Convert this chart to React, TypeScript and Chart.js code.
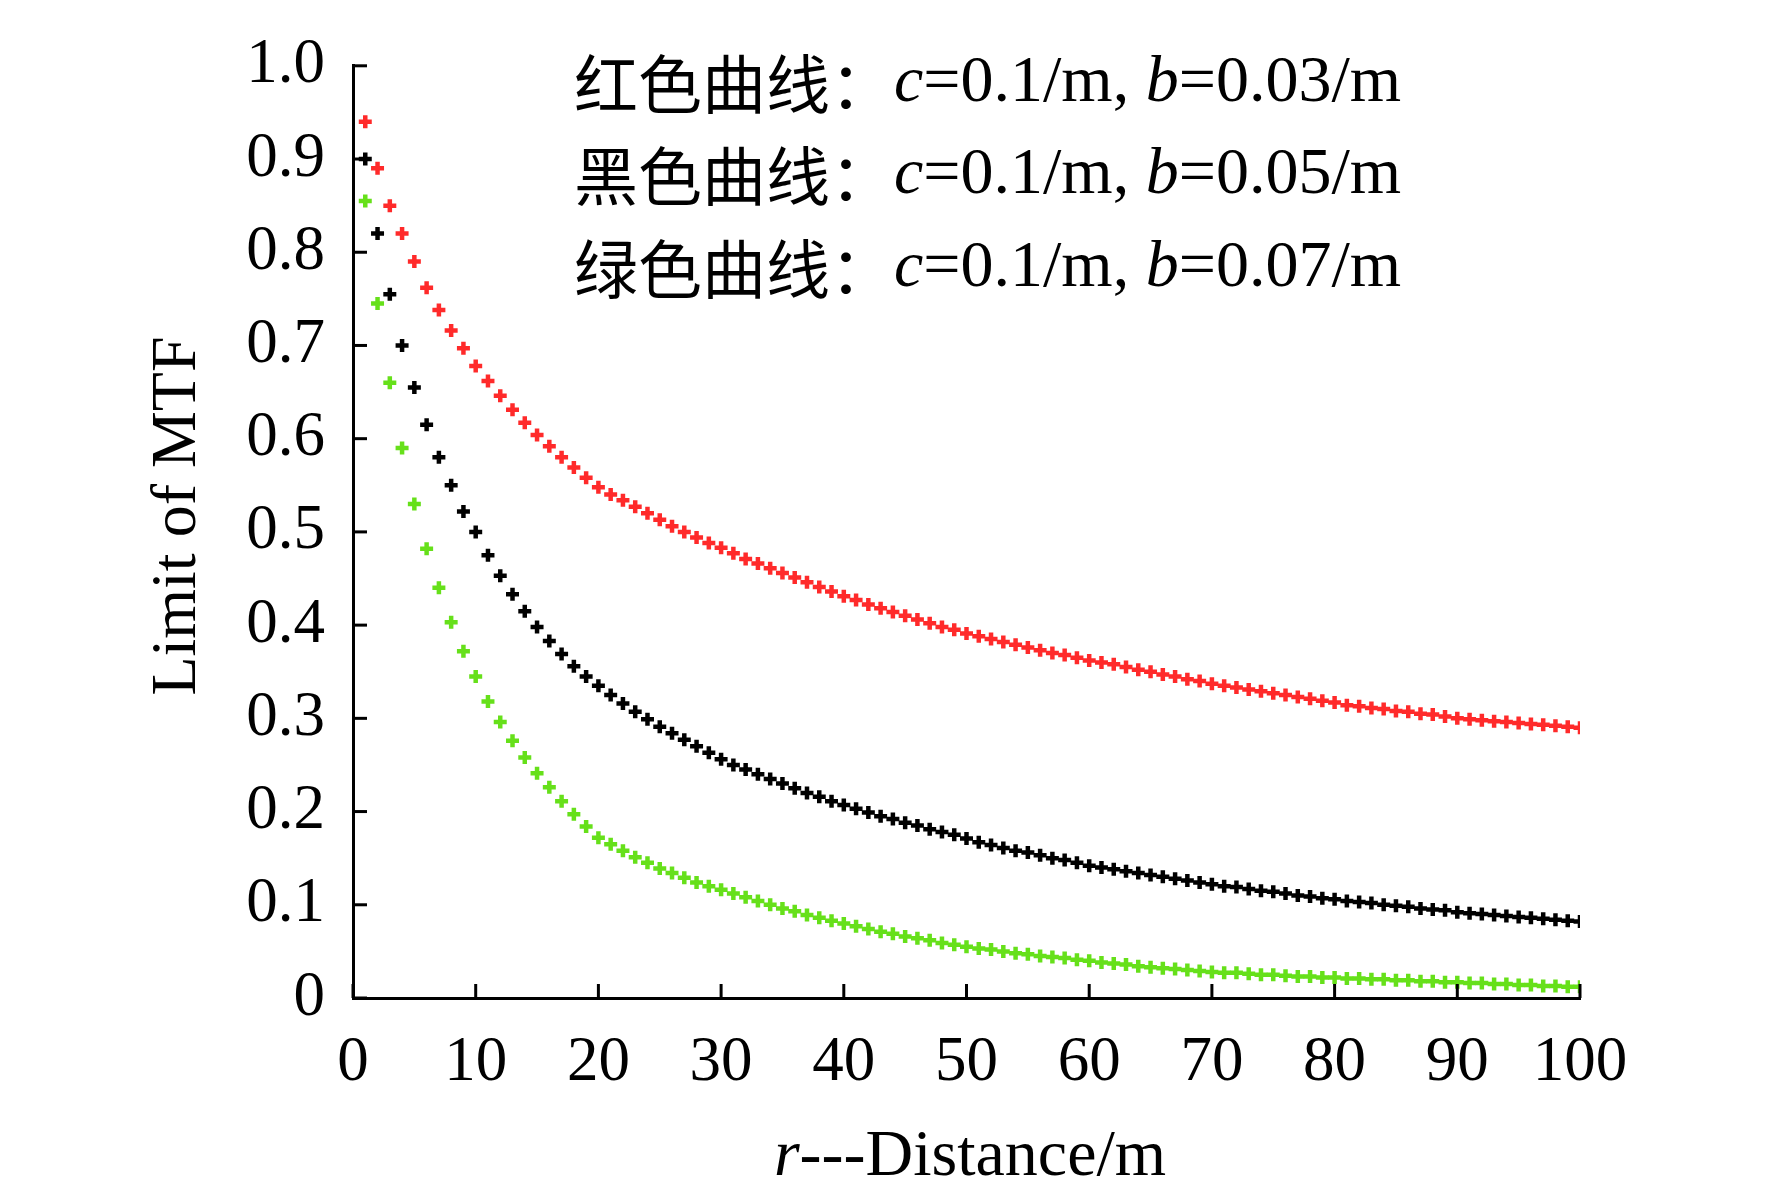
import { useEffect, useRef } from "react"
import { Chart, registerables } from "chart.js"

Chart.register(...registerables)

const distances = Array.from({ length: 100 }, (_, i) => i + 1)

const redValues = [
  0.94, 0.89, 0.85, 0.82, 0.79, 0.762, 0.738, 0.716, 0.697, 0.678,
  0.662, 0.646, 0.631, 0.617, 0.604, 0.592, 0.58, 0.569, 0.558, 0.548,
  0.54, 0.534, 0.527, 0.52, 0.513, 0.506, 0.5, 0.494, 0.488, 0.483,
  0.477, 0.471, 0.466, 0.461, 0.456, 0.451, 0.446, 0.441, 0.436, 0.431,
  0.427, 0.422, 0.418, 0.414, 0.41, 0.406, 0.402, 0.398, 0.395, 0.391,
  0.388, 0.385, 0.382, 0.379, 0.376, 0.373, 0.37, 0.368, 0.365, 0.362,
  0.36, 0.358, 0.355, 0.352, 0.35, 0.347, 0.345, 0.342, 0.34, 0.337,
  0.335, 0.333, 0.331, 0.329, 0.327, 0.325, 0.323, 0.321, 0.319, 0.317,
  0.314, 0.313, 0.311, 0.31, 0.308, 0.307, 0.305, 0.304, 0.302, 0.3,
  0.299, 0.298, 0.297, 0.296, 0.295, 0.294, 0.293, 0.292, 0.291, 0.29,
]

const blackValues = [
  0.9, 0.82, 0.755, 0.7, 0.655, 0.615, 0.58, 0.55, 0.522, 0.5,
  0.475, 0.453, 0.433, 0.415, 0.398, 0.383, 0.369, 0.356, 0.345, 0.335,
  0.325, 0.316, 0.307, 0.299, 0.291, 0.284, 0.277, 0.27, 0.263, 0.256,
  0.25, 0.245, 0.24, 0.235, 0.23, 0.225, 0.22, 0.216, 0.211, 0.207,
  0.203, 0.199, 0.195, 0.192, 0.188, 0.185, 0.181, 0.178, 0.175, 0.171,
  0.167, 0.164, 0.161, 0.158, 0.156, 0.153, 0.15, 0.148, 0.145, 0.142,
  0.14, 0.138, 0.136, 0.134, 0.132, 0.13, 0.128, 0.126, 0.124, 0.122,
  0.12, 0.119, 0.117, 0.115, 0.114, 0.112, 0.11, 0.109, 0.107, 0.106,
  0.104, 0.103, 0.102, 0.1, 0.099, 0.098, 0.096, 0.095, 0.094, 0.092,
  0.091, 0.09, 0.089, 0.088, 0.087, 0.086, 0.085, 0.084, 0.083, 0.082,
]

const greenValues = [
  0.855, 0.745, 0.66, 0.59, 0.53, 0.482, 0.44, 0.403, 0.372, 0.345,
  0.318, 0.296, 0.276, 0.258, 0.241, 0.226, 0.211, 0.197, 0.184, 0.172,
  0.165, 0.158, 0.151, 0.145, 0.139, 0.134, 0.129, 0.124, 0.12, 0.116,
  0.112, 0.108, 0.104, 0.1, 0.096, 0.093, 0.089, 0.086, 0.083, 0.08,
  0.077, 0.074, 0.071, 0.069, 0.066, 0.064, 0.062, 0.059, 0.057, 0.055,
  0.053, 0.052, 0.05, 0.048, 0.047, 0.045, 0.044, 0.043, 0.041, 0.04,
  0.038, 0.037, 0.036, 0.034, 0.033, 0.032, 0.031, 0.03, 0.029, 0.028,
  0.027, 0.027, 0.026, 0.025, 0.025, 0.024, 0.023, 0.023, 0.022, 0.022,
  0.021, 0.021, 0.02, 0.02, 0.019, 0.019, 0.018, 0.018, 0.017, 0.017,
  0.016, 0.016, 0.015, 0.015, 0.014, 0.014, 0.013, 0.013, 0.012, 0.012,
]

const legendLines = [
  { label: "红色曲线：", b: "0.03" },
  { label: "黑色曲线：", b: "0.05" },
  { label: "绿色曲线：", b: "0.07" },
]

const SERIF = "'Liberation Serif', 'Times New Roman', serif"
const CJK = "'Noto Sans CJK SC', sans-serif"

// inner tick marks, axis titles and the text legend
const decorations = {
  id: "decorations",
  afterDraw(chart: Chart) {
    const { ctx, scales, chartArea } = chart
    const x = scales.x
    const y = scales.y
    ctx.save()
    ctx.strokeStyle = "#000"
    ctx.lineWidth = 3
    for (let v = 0; v <= 1.0001; v += 0.1) {
      const py = y.getPixelForValue(v)
      ctx.beginPath()
      ctx.moveTo(chartArea.left, py)
      ctx.lineTo(chartArea.left + 14, py)
      ctx.stroke()
    }
    for (let v = 0; v <= 100; v += 10) {
      const px = x.getPixelForValue(v)
      ctx.beginPath()
      ctx.moveTo(px, chartArea.bottom)
      ctx.lineTo(px, chartArea.bottom - 14)
      ctx.stroke()
    }

    ctx.fillStyle = "#000"
    ctx.textBaseline = "middle"

    // y title
    ctx.save()
    ctx.translate(178, 516)
    ctx.rotate(-Math.PI / 2)
    ctx.textAlign = "center"
    ctx.font = `64px ${SERIF}`
    ctx.fillText("Limit of MTF", 0, 0)
    ctx.restore()

    // x title
    ctx.textAlign = "left"
    ctx.font = `italic 66px ${SERIF}`
    const r = "r"
    const rest = "---Distance/m"
    const wr = ctx.measureText(r).width
    ctx.font = `66px ${SERIF}`
    const wRest = ctx.measureText(rest).width
    const sx = 970 - (wr + wRest) / 2
    ctx.font = `italic 66px ${SERIF}`
    ctx.fillText(r, sx, 1158)
    ctx.font = `66px ${SERIF}`
    ctx.fillText(rest, sx + wr, 1158)

    // legend text
    const ys = [84, 176, 269]
    legendLines.forEach((line, i) => {
      let px = 574
      const parts: [string, string][] = [
        [`64px ${CJK}`, line.label],
        [`italic 66px ${SERIF}`, "c"],
        [`66px ${SERIF}`, "=0.1/m, "],
        [`italic 66px ${SERIF}`, "b"],
        [`66px ${SERIF}`, `=${line.b}/m`],
      ]
      parts.forEach(([font, text]) => {
        ctx.font = font
        ctx.fillText(text, px, ys[i])
        px += ctx.measureText(text).width
      })
    })
    ctx.restore()
  },
}

export default function App() {
  const chartRef = useRef<HTMLCanvasElement>(null)
  const chartInstance = useRef<Chart | null>(null)

  useEffect(() => {
    document.body.style.margin = "0"
    if (!chartRef.current) return
    if (chartInstance.current) chartInstance.current.destroy()

    const makeSet = (values: number[], color: string) => ({
      data: distances.map((d, i) => ({ x: d, y: values[i] })),
      pointStyle: "cross" as const,
      pointRadius: 6.5,
      pointBorderWidth: 4.5,
      borderColor: color,
      backgroundColor: color,
      showLine: false,
    })

    chartInstance.current = new Chart(chartRef.current, {
      type: "scatter",
      data: {
        datasets: [
          makeSet(redValues, "#ff2a2a"),
          makeSet(blackValues, "#000000"),
          makeSet(greenValues, "#66e01a"),
        ],
      },
      options: {
        animation: false,
        responsive: false,
        layout: { padding: { top: 8, right: 192, left: 0, bottom: 0 } },
        plugins: { legend: { display: false }, tooltip: { enabled: false } },
        scales: {
          x: {
            type: "linear",
            min: 0,
            max: 100,
            afterFit: (s) => { s.height = 196 },
            grid: { display: true, drawOnChartArea: false, drawTicks: false },
            border: { display: true, color: "#000", width: 3 },
            ticks: {
              stepSize: 10,
              padding: 28,
              color: "#000",
              font: { family: SERIF, size: 63 },
              maxRotation: 0,
            },
          },
          y: {
            type: "linear",
            min: 0,
            max: 1,
            afterFit: (s) => { s.width = 353 },
            grid: { display: true, drawOnChartArea: false, drawTicks: false },
            border: { display: true, color: "#000", width: 3 },
            ticks: {
              stepSize: 0.1,
              padding: 28,
              color: "#000",
              font: { family: SERIF, size: 63 },
              callback: (v) => (Number(v) === 0 ? "0" : Number(v).toFixed(1)),
            },
          },
        },
      },
      plugins: [decorations],
    })

    return () => {
      if (chartInstance.current) {
        chartInstance.current.destroy()
        chartInstance.current = null
      }
    }
  }, [])

  return (
    <div style={{ width: 1772, height: 1194, background: "#fff" }}>
      <canvas ref={chartRef} width={1772} height={1194} />
    </div>
  )
}
